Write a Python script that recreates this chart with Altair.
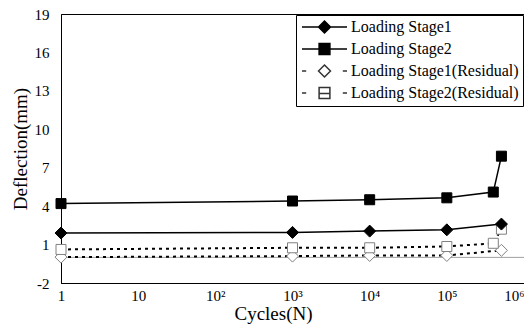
import altair as alt
import pandas as pd

# ---- data ----
SERIES = ["Loading Stage1", "Loading Stage2",
          "Loading Stage1(Residual)", "Loading Stage2(Residual)"]

stage1_x = [1, 1e3, 1e4, 1e5, 5.1e5]
stage1_y = [1.9, 1.95, 2.05, 2.15, 2.6]

stage2_x = [1, 1e3, 1e4, 1e5, 4e5, 5.1e5]
stage2_y = [4.2, 4.4, 4.5, 4.65, 5.1, 7.9]

res1_x = [1, 1e3, 1e4, 1e5, 5.1e5]
res1_y = [0.02, 0.1, 0.15, 0.15, 0.55]

res2_x = [1, 1e3, 1e4, 1e5, 4e5, 5.1e5]
res2_y = [0.62, 0.75, 0.75, 0.85, 1.1, 2.2]

X_TICKS = [1, 10, 100, 1000, 10000, 100000, 1000000]
X_TICK_LABELS = ["1", "10", "10²", "10³", "10⁴", "10⁵", "10⁶"]
Y_TICKS = [-2, 1, 4, 7, 10, 13, 16, 19]
ZERO_LINE = [0]

rows = []
for name, xs, ys in [(SERIES[0], stage1_x, stage1_y), (SERIES[1], stage2_x, stage2_y),
                     (SERIES[2], res1_x, res1_y), (SERIES[3], res2_x, res2_y)]:
    for i, (xv, yv) in enumerate(zip(xs, ys)):
        rows.append({"series": name, "cycles": xv, "defl": yv, "order": i})
df = pd.DataFrame(rows)
zero_df = pd.DataFrame({"defl": ZERO_LINE})

FONT = "Liberation Serif"

label_expr = " : ".join(
    f"datum.value == {v} ? '{l}'" for v, l in zip(X_TICKS, X_TICK_LABELS)
) + " : ''"

x_enc = alt.X("cycles:Q",
              scale=alt.Scale(type="log", domain=[1, 1e6], nice=False),
              axis=alt.Axis(values=X_TICKS, labelExpr=label_expr, title="Cycles(N)",
                            grid=False, ticks=False, labelPadding=5, titlePadding=1,
                            titleX=212, labelFlush=False, labelOverlap=False,
                            labelAlign={"condition": {"test": f"datum.value >= {X_TICKS[-1]}",
                                                      "value": "right"},
                                        "value": "center"}))
y_axis = alt.Axis(values=Y_TICKS, title="Deflection(mm)", grid=False,
                  ticks=False, labelPadding=12, titlePadding=4,
                  labelOverlap=False, labelFlush=False,
                  labelExpr="datum.value < 0 ? '-' + abs(datum.value) : '' + datum.value")
y_scale = alt.Scale(domain=[-2, 19], nice=False, zero=False)
y_enc = alt.Y("defl:Q", scale=y_scale, axis=y_axis)

base = alt.Chart(df)

zero = alt.Chart(zero_df).mark_rule(color="#a0a0a0", strokeWidth=1).encode(y=y_enc)

solid_lines = base.transform_filter(
    alt.FieldOneOfPredicate(field="series", oneOf=SERIES[:2])
).mark_line(color="black", strokeWidth=1.5).encode(
    x=x_enc, y=y_enc, detail="series:N", order="order:Q")

dashed_lines = base.transform_filter(
    alt.FieldOneOfPredicate(field="series", oneOf=SERIES[2:])
).mark_line(color="black", strokeWidth=2, strokeDash=[3, 4]).encode(
    x=x_enc, y=y_enc, detail="series:N", order="order:Q")


def pts(name, shape, size, filled, stroke, sw):
    return base.transform_filter(alt.datum.series == name).mark_point(
        shape=shape, size=size, filled=filled, fill="black" if filled else "white",
        stroke=stroke, strokeWidth=sw, opacity=1).encode(x=x_enc, y=y_enc)


p_res1 = pts(SERIES[2], "diamond", 144, False, "#808080", 1)
p_res2 = pts(SERIES[3], "square", 100, False, "#808080", 1)
p_s1 = pts(SERIES[0], "diamond", 144, True, "black", 1)
p_s2 = pts(SERIES[1], "square", 100, True, "black", 1)

# legend symbols: line + marker as custom paths
LEG_PATHS = [
    "M-1,0L6.5,0M1.75,0L2.75,-1L3.75,0L2.75,1Z",
    "M-1,0L6.5,0M1.85,-0.9L3.65,-0.9L3.65,0.9L1.85,0.9Z",
    "M-1,0L-0.3,0M5.8,0L6.5,0M1.75,0L2.75,-1L3.75,0L2.75,1Z",
    "M-1,0L-0.3,0M5.8,0L6.5,0M1.85,-0.9L3.65,-0.9L3.65,0.9L1.85,0.9ZM1.85,0.1L3.65,0.1",
]
legend = alt.Legend(title=None, orient="none", legendX=235, legendY=1,
                    strokeColor="black", fillColor="white", padding=4,
                    labelFont=FONT, labelFontSize=16, labelColor="black",
                    labelLimit=400, labelOffset=35, rowPadding=4, symbolSize=144,
                    symbolStrokeWidth=1.5)
legend_layer = base.transform_filter("false").mark_point(opacity=1, size=144).encode(
    x=x_enc, y=y_enc,
    shape=alt.Shape("series:N", scale=alt.Scale(domain=SERIES, range=LEG_PATHS), legend=legend),
    fill=alt.Fill("series:N", scale=alt.Scale(domain=SERIES, range=["black", "black", "white", "white"]), legend=legend),
    stroke=alt.Stroke("series:N", scale=alt.Scale(domain=SERIES, range=["black", "black", "#333333", "#333333"]), legend=legend),
)

chart = alt.layer(zero, solid_lines, dashed_lines, p_res1, p_res2, p_s1, p_s2, legend_layer).properties(
    width=463, height=269,
    autosize=alt.AutoSizeParams(type="none"),
    padding={"left": 53, "top": 6, "right": 0, "bottom": 41},
    background="white",
).configure(font=FONT).configure_view(stroke="black", strokeWidth=1).configure_axis(
    domainColor="black", domainWidth=1, labelFont=FONT, labelFontSize=15,
    labelColor="black", titleFont=FONT, titleFontSize=19, titleFontWeight="normal",
    titleColor="black")

chart.save("out.html", embed_options={"renderer": "svg", "actions": False})
